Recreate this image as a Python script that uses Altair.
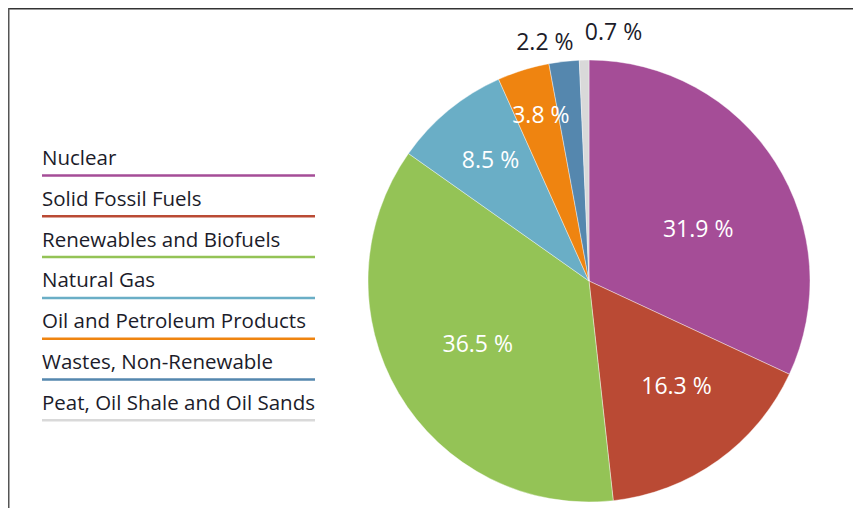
import altair as alt
import pandas as pd

categories = [
    "Nuclear",
    "Solid Fossil Fuels",
    "Renewables and Biofuels",
    "Natural Gas",
    "Oil and Petroleum Products",
    "Wastes, Non-Renewable",
    "Peat, Oil Shale and Oil Sands",
]
shares = [31.9, 16.3, 36.5, 8.5, 3.8, 2.2, 0.7]
labels = ["31.9 %", "16.3 %", "36.5 %", "8.5 %", "3.8 %", "2.2 %", "0.7 %"]
colors = ["#A54D97", "#BA4A34", "#94C356", "#6AAEC6", "#EF8410", "#5587AE", "#D9D9D9"]

df = pd.DataFrame({
    "category": categories,
    "share": shares,
    "label": labels,
    "idx": list(range(len(categories))),
})
total = float(sum(shares))

W, H = 845, 500
CX, CY, R = 581, 273, 221

color_scale = alt.Scale(domain=categories, range=colors)

arc = alt.Chart(df).mark_arc(radius=R, stroke="white", strokeWidth=0.4).encode(
    theta=alt.Theta("share:Q", stack=True),
    order=alt.Order("idx:Q"),
    color=alt.Color("category:N", scale=color_scale, legend=None),
    x=alt.value(CX),
    y=alt.value(CY),
)

# label placement styles: index -> (radius, dx, dy, colour)
label_style = {
    0: (120, 8, 14, "white"),
    1: (138, 7, -6, "white"),
    2: (128, -1, -1, "white"),
    3: (155, 0, 0, "white"),
    4: (172, 3, -1, "white"),
    5: (240, -17, 0, "#1c1c2a"),
    6: (248, 30, 0, "#1c1c2a"),
}

base_text = alt.Chart(df).transform_window(
    cum="sum(share)", sort=[{"field": "idx"}], frame=[None, 0]
).transform_calculate(mid="datum.cum - datum.share / 2")

text_layers = []
for i, (r, dx, dy, c) in label_style.items():
    text_layers.append(
        base_text.transform_filter(alt.datum.idx == i).mark_text(
            radius=r, dx=dx, dy=dy, font="Open Sans", fontSize=23,
            color=c, align="center", baseline="middle",
        ).encode(
            theta=alt.Theta("mid:Q", stack=False, scale=alt.Scale(domain=[0, total])),
            text="label:N",
            x=alt.value(CX),
            y=alt.value(CY),
        )
    )

y_scale = alt.Scale(domain=[0, 6], range=[157, 157 + 6 * 40.8])

leg_text = alt.Chart(df).mark_text(
    align="left", baseline="alphabetic", font="Open Sans", fontSize=20.5, color="#1c1c2a"
).encode(
    x=alt.value(34),
    y=alt.Y("idx:Q", scale=y_scale, axis=None),
    text="category:N",
)

leg_rule = alt.Chart(df).mark_rule(strokeWidth=2.5, yOffset=10.5).encode(
    x=alt.value(34),
    x2=alt.value(307),
    y=alt.Y("idx:Q", scale=y_scale, axis=None),
    color=alt.Color("category:N", scale=color_scale, legend=None),
)

frame_df = pd.DataFrame({"a": [0]})
top_line = alt.Chart(frame_df).mark_rule(color="#333333", strokeWidth=1.5).encode(
    x=alt.value(0), x2=alt.value(W), y=alt.value(0.75)
)
left_line = alt.Chart(frame_df).mark_rule(color="#555555", strokeWidth=1.5).encode(
    x=alt.value(0.75), y=alt.value(0), y2=alt.value(H)
)

chart = alt.layer(
    arc, *text_layers, leg_rule, leg_text, top_line, left_line
).resolve_scale(theta="independent").properties(
    width=W, height=H, padding=0, autosize=alt.AutoSizeParams(type="none")
).configure_view(stroke=None)

chart.save("out.html", embed_options={"renderer": "svg", "actions": False})
